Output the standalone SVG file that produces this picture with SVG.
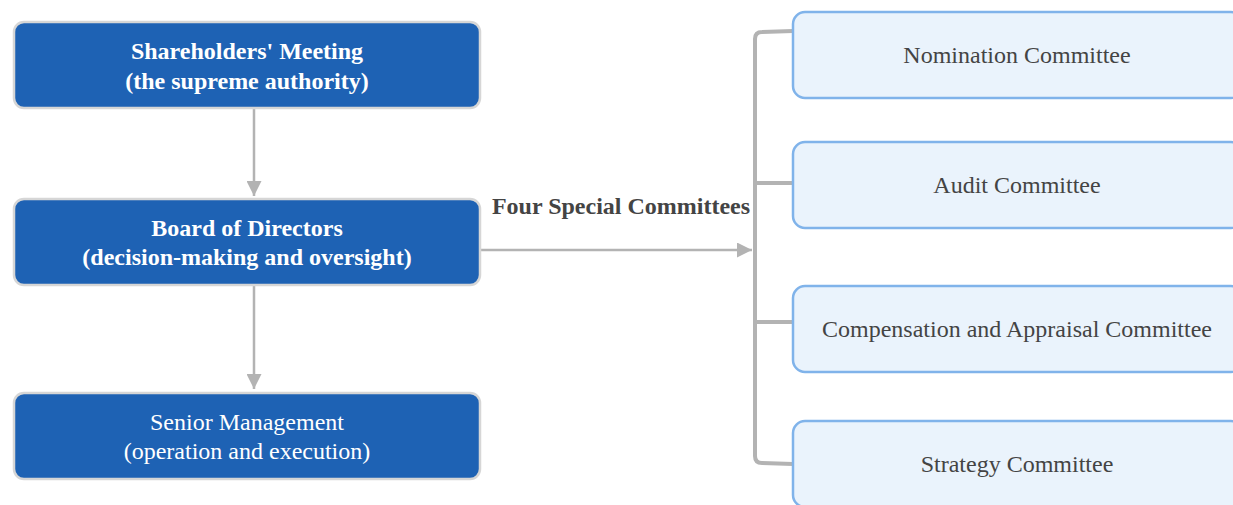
<svg xmlns="http://www.w3.org/2000/svg" width="1233" height="505" viewBox="0 0 1233 505">
<style>
.main rect{fill:#1e62b4;stroke:#d6d6d6;stroke-width:2.5}
.main text{fill:#fff;font-family:"Liberation Serif",serif;font-size:24px;text-anchor:middle}
.b{font-weight:bold}
.com rect{fill:#eaf3fc;stroke:#80b3ea;stroke-width:2.5}
.com text{fill:#444;font-family:"Liberation Serif",serif;font-size:24px;text-anchor:middle}
.conn{stroke:#b3b3b3;stroke-width:2.5;fill:none}
.br{stroke:#b3b3b3;stroke-width:4;fill:none}
.lbl{fill:#444;font-family:"Liberation Serif",serif;font-size:24px;font-weight:bold;text-anchor:middle}
</style>
<defs>
<marker id="ah" viewBox="0 0 10 10" refX="10" refY="5" markerWidth="15" markerHeight="15" markerUnits="userSpaceOnUse" orient="auto">
<path d="M0,0 L10,5 L0,10 z" fill="#b3b3b3"/>
</marker>
</defs>
<g id="connectors">
<line class="conn" x1="254" y1="109" x2="254" y2="196" marker-end="url(#ah)"/>
<line class="conn" x1="254" y1="286" x2="254" y2="389" marker-end="url(#ah)"/>
<line class="conn" x1="481" y1="250" x2="752" y2="250" marker-end="url(#ah)"/>
<path class="br" d="M793,31 L762,32 Q755,32 755,39 L755,456 Q755,463 762,463 L793,464"/>
<line class="br" x1="755" y1="183" x2="795" y2="183"/>
<line class="br" x1="755" y1="322" x2="795" y2="322"/>
<text class="lbl" x="621" y="214">Four Special Committees</text>
</g>
<g id="shareholders" class="main">
<rect x="14" y="22" width="466" height="86" rx="10"/>
<text class="b" x="247" y="59">Shareholders' Meeting</text>
<text class="b" x="247" y="89">(the supreme authority)</text>
</g>
<g id="board" class="main">
<rect x="14" y="199" width="466" height="86" rx="10"/>
<text class="b" x="247" y="236">Board of Directors</text>
<text class="b" x="247" y="265">(decision-making and oversight)</text>
</g>
<g id="senior" class="main">
<rect x="14" y="393" width="466" height="86" rx="10"/>
<text x="247" y="430">Senior Management</text>
<text x="247" y="459">(operation and execution)</text>
</g>
<g id="nomination" class="com">
<rect x="793" y="12" width="450" height="86" rx="12"/>
<text x="1017" y="63">Nomination Committee</text>
</g>
<g id="audit" class="com">
<rect x="793" y="142" width="450" height="86" rx="12"/>
<text x="1017" y="193">Audit Committee</text>
</g>
<g id="compensation" class="com">
<rect x="793" y="286" width="450" height="86" rx="12"/>
<text x="1017" y="337">Compensation and Appraisal Committee</text>
</g>
<g id="strategy" class="com">
<rect x="793" y="421" width="450" height="86" rx="12"/>
<text x="1017" y="472">Strategy Committee</text>
</g>
</svg>
